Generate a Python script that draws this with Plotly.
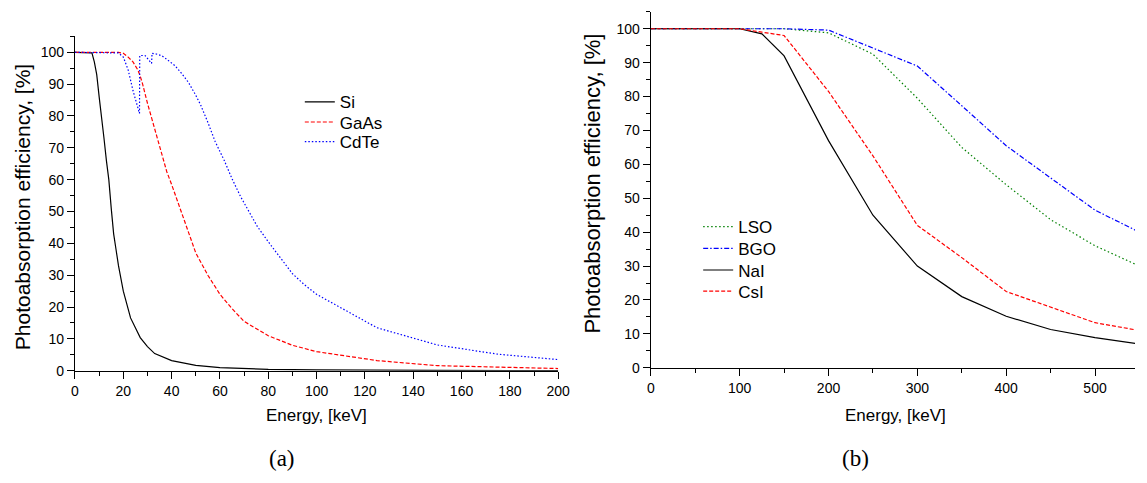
import plotly.graph_objects as go

# ---------- panel (a) ----------
si_e = [0, 5, 7, 8, 9, 10, 11, 12, 13, 14, 15, 16, 17, 18, 20, 23, 27, 30, 33, 40, 50, 60, 80, 100, 150, 200]
si_p = [100, 100, 99.8, 97, 93, 86, 80, 73, 66, 60, 51, 43, 38, 33, 25, 16.6, 10.4, 7.6, 5.4, 3.2, 1.7, 1.0, 0.45, 0.25, 0.1, 0.05]

gaas_e = [0, 10, 18, 20, 22, 24, 26, 27, 28, 30, 32, 34, 36, 38, 40, 43, 46, 50, 55, 60, 65, 70, 80, 90, 100, 110, 125, 150, 175, 200]
gaas_p = [100, 100, 100, 99.7, 98.5, 97, 94.5, 92.5, 90, 84, 78.5, 73, 67.5, 62.5, 58.5, 52, 45, 37, 30, 24, 19.5, 15.5, 11, 8, 6, 4.8, 3.2, 1.6, 1.1, 0.7]

cdte_e = [0, 10, 15, 18, 20, 22, 24, 26, 26.7, 26.8, 29, 31.7, 31.9, 34, 36, 38, 41.4, 44, 47, 50, 52, 55, 58, 61.8, 65, 68.6, 72, 75.4, 80, 85, 90, 95, 100, 110, 125, 150, 175, 200]
cdte_p = [100, 100, 100, 99.8, 98.5, 94.5, 88, 82.5, 80.8, 99, 99, 96.5, 99.7, 99.4, 98.9, 97.8, 95.8, 93.5, 90.5, 86.5, 83.5, 78, 72, 66, 60.3, 54.6, 50, 45.4, 40.5, 35.5, 30.5, 27, 24, 19.8, 13.5, 8.1, 5.2, 3.5]

# ---------- panel (b) ----------
b_e = [0, 50, 100, 125, 150, 200, 250, 300, 350, 400, 450, 500, 550]
lso_p = [100, 100, 100, 100, 100, 98.8, 92.5, 79.5, 65, 54, 43.7, 36, 30]
bgo_p = [100, 100, 100, 100, 100, 99.6, 94.4, 89, 77.3, 65.5, 56, 46.5, 40]
nai_p = [100, 100, 100, 98.5, 92, 67, 45, 30, 21, 15.2, 11.3, 8.9, 7]
csi_p = [100, 100, 100, 99, 98, 81.5, 62.5, 42, 32.5, 22.5, 17.8, 13.3, 11]

W, H = 1147, 483
FONT = "Liberation Sans, Arial, sans-serif"
LW = 1.2

def px_x(p):
    return p / W

def px_y(p):
    return 1 - p / H

# (name, x, y, style, axes, legend id, legend text-left px, legend centre px)
series = [
    ("Si", si_e, si_p, dict(color="black"), "a", "legend", 341, 104),
    ("GaAs", gaas_e, gaas_p, dict(color="#ff0000", dash="4px,2px"), "a", "legend2", 341, 124.5),
    ("CdTe", cdte_e, cdte_p, dict(color="#0000ff", dash="1.5px,2px"), "a", "legend3", 341, 144.5),
    ("LSO", b_e, lso_p, dict(color="#008000", dash="1.5px,2.5px"), "b", "legend4", 745, 231),
    ("BGO", b_e, bgo_p, dict(color="#0000ff", dash="5px,2px,1.5px,2px"), "b", "legend5", 745, 253),
    ("NaI", b_e, nai_p, dict(color="black"), "b", "legend6", 745, 275),
    ("CsI", b_e, csi_p, dict(color="#ff0000", dash="4px,2px"), "b", "legend7", 745, 296.5),
]

fig = go.Figure()
legends = {}
for name, xs, ys, style, panel, leg, tx, ty in series:
    xa, ya = ("x", "y") if panel == "a" else ("x2", "y2")
    fig.add_trace(go.Scatter(x=xs, y=ys, name=name, mode="lines",
                             line=dict(width=LW, **style), xaxis=xa, yaxis=ya, legend=leg))
    legends[leg] = dict(x=px_x(tx - 41), y=px_y(ty), xanchor="left", yanchor="middle",
                        bgcolor="rgba(0,0,0,0)", borderwidth=0,
                        font=dict(family=FONT, size=17, color="black"))

axis_common = dict(showline=True, linecolor="black", linewidth=1.3, ticks="outside", ticklen=7,
                   tickwidth=1.2, tickcolor="black", showgrid=False, zeroline=False, mirror=False,
                   tickfont=dict(family=FONT, size=14, color="black"))

fig.update_layout(
    width=W, height=H, margin=dict(l=0, r=0, t=0, b=0),
    paper_bgcolor="white", plot_bgcolor="white",
    font=dict(family=FONT, color="black"),
    xaxis=dict(domain=[px_x(72), px_x(562)], range=[0, 200], dtick=20, anchor="y",
               minor=dict(ticks="outside", ticklen=4, dtick=10, tickcolor="black"), **axis_common),
    yaxis=dict(domain=[px_y(377), px_y(37)], range=[0, 105], dtick=10, anchor="x",
               minor=dict(ticks="outside", ticklen=4, dtick=5, tickcolor="black"), **axis_common),
    xaxis2=dict(domain=[px_x(656), 1.0], range=[0, 545], dtick=100, anchor="y2",
                minor=dict(ticks="outside", ticklen=4, dtick=50, tickcolor="black"), **axis_common),
    yaxis2=dict(domain=[px_y(374), px_y(12)], range=[0, 105], dtick=10, anchor="x2",
                minor=dict(ticks="outside", ticklen=4, dtick=5, tickcolor="black"), **axis_common),
    showlegend=True,
    **legends,
)

annots = [
    dict(text="Energy, [keV]", x=px_x(317), y=px_y(423), size=17, angle=0, family=FONT),
    dict(text="Energy, [keV]", x=px_x(904), y=px_y(422), size=17, angle=0, family=FONT),
    dict(text="Photoabsorption efficiency, [%]", x=px_x(19), y=px_y(211), size=21, angle=-90, family=FONT),
    dict(text="Photoabsorption efficiency, [%]", x=px_x(597), y=px_y(187), size=22, angle=-90, family=FONT),
    dict(text="(a)", x=px_x(282), y=px_y(466), size=23, angle=0, family="Liberation Serif, serif"),
    dict(text="(b)", x=px_x(864), y=px_y(466), size=23, angle=0, family="Liberation Serif, serif"),
]
for a in annots:
    fig.add_annotation(text=a["text"], x=a["x"], y=a["y"], xref="paper", yref="paper",
                       xanchor="center", yanchor="middle", showarrow=False, textangle=a["angle"],
                       font=dict(family=a["family"], size=a["size"], color="black"))

fig.write_html("out.html")
